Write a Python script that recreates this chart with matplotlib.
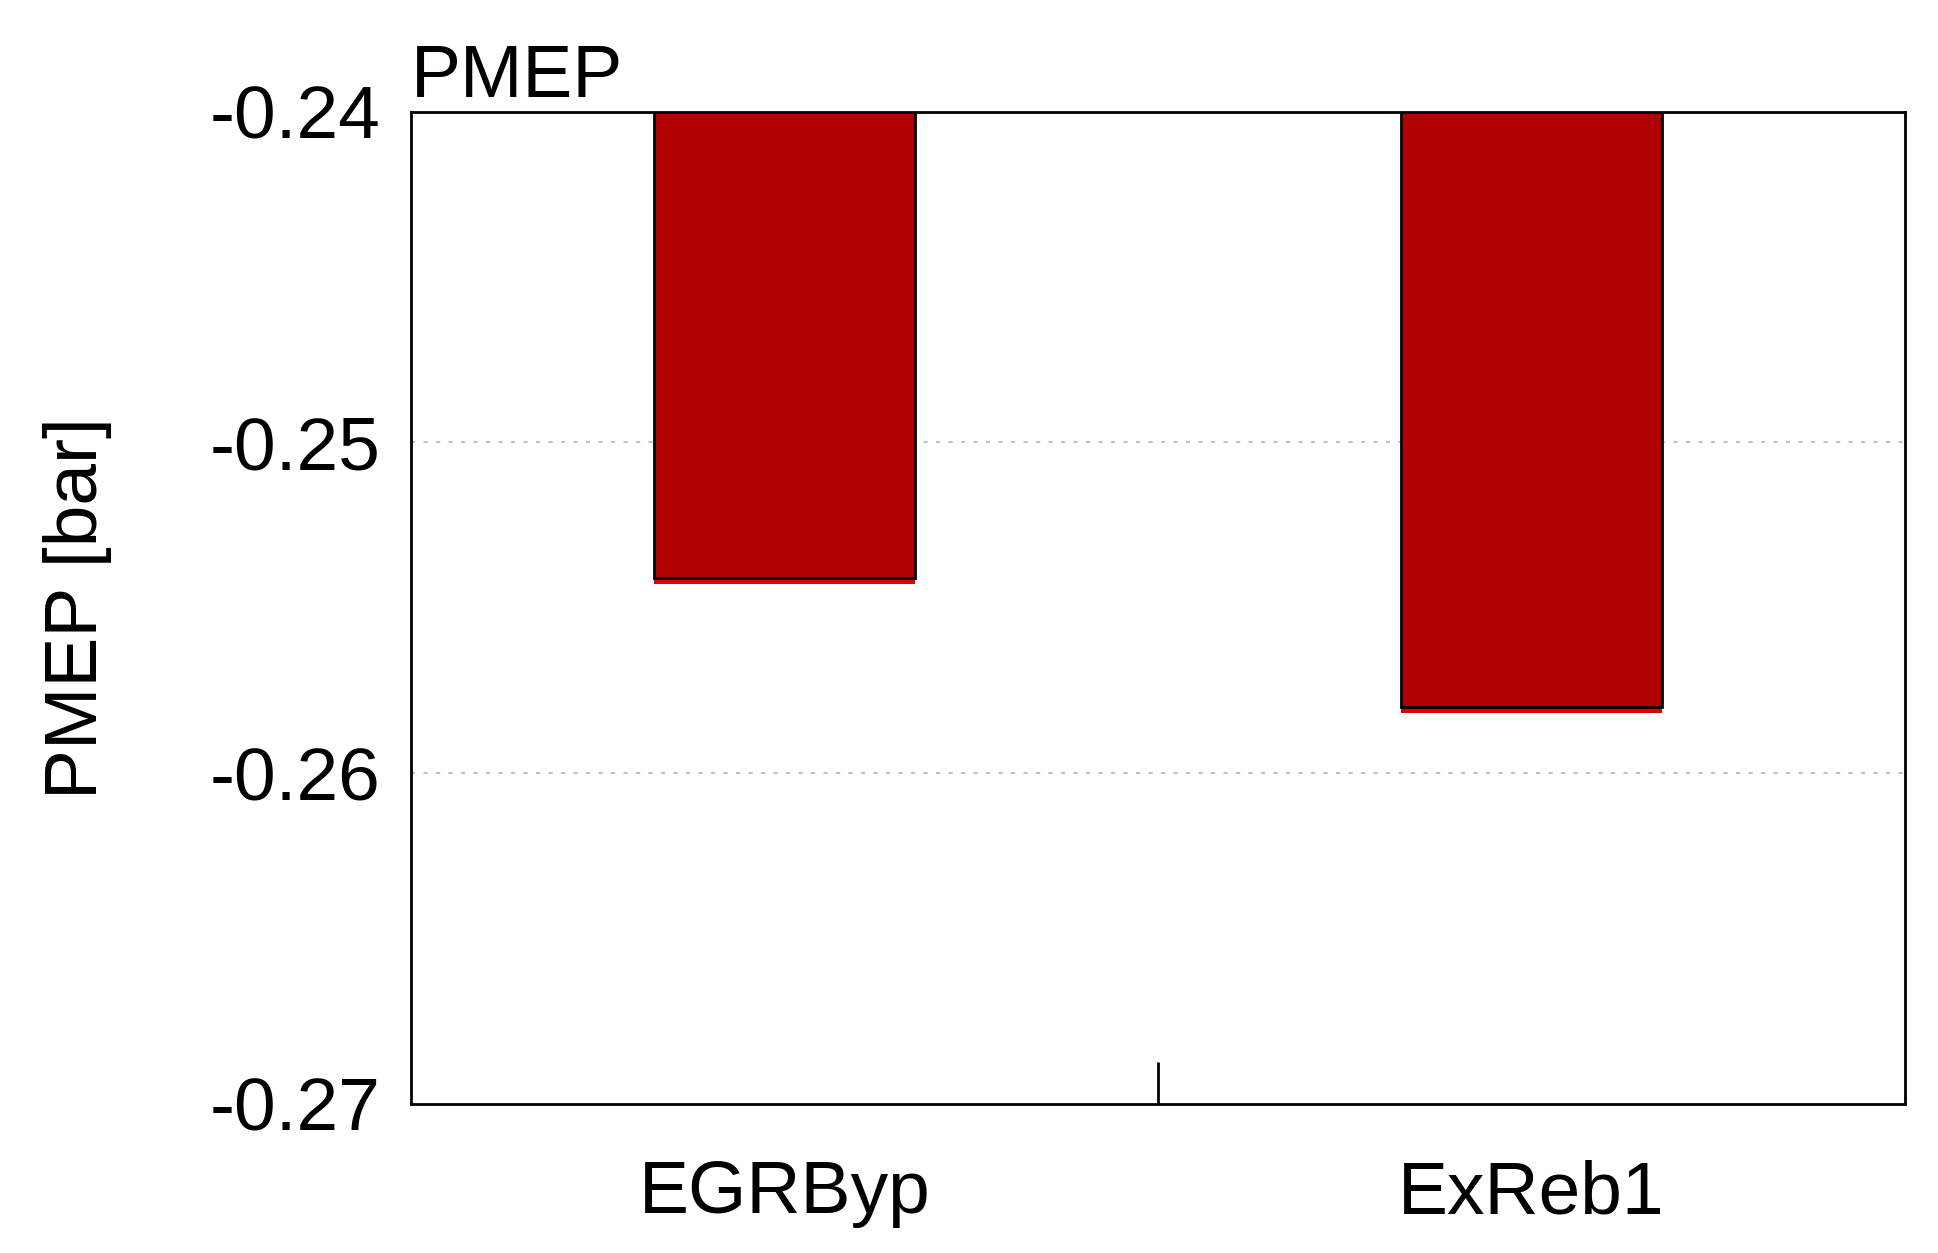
import matplotlib
matplotlib.use("Agg")
import matplotlib.pyplot as plt

categories = ["EGRByp", "ExReb1"]
values = [-0.2541, -0.2580]
yticks = [-0.27, -0.26, -0.25, -0.24]
ytick_labels = ["-0.27", "-0.26", "-0.25", "-0.24"]

plt.rcParams['font.family'] = ['Liberation Sans', 'DejaVu Sans']
fs = 54
fig = plt.figure(figsize=(19.38, 12.53), dpi=100)
ax = fig.add_axes([0.212, 0.119, 0.771, 0.792])
base = -0.24
x = list(range(len(categories)))
h = [v - base for v in values]
# red shadow under the bar bottom
ax.bar(x, h, bottom=[base - 0.00018] * len(x), width=0.35, color="#dd0000", zorder=2)
ax.bar(x, h, bottom=base, width=0.35, color="#b00000", edgecolor="black", linewidth=2, zorder=3)
ax.set_xlim(-0.5, 1.5)
ax.set_ylim(-0.27, -0.24)
ax.set_yticks(yticks)
ax.set_yticklabels(ytick_labels, fontsize=fs, fontweight='medium')
ax.set_xticks(x)
ax.set_xticklabels(categories, fontsize=fs)
ax.tick_params(axis='y', length=0, pad=22)
ax.tick_params(axis='x', length=0, pad=40)
ax.set_xticks([0.5], minor=True)
ax.tick_params(axis='x', which='minor', direction='in', length=30, width=2)
for s in ax.spines.values():
    s.set_linewidth(2)
for y in [-0.25, -0.26]:
    ax.axhline(y, color="#c0c0c0", linestyle=(0, (2, 4)), linewidth=1.5, zorder=1)
ax.set_ylabel("PMEP [bar]", fontsize=fs, labelpad=70)
ax.set_title("PMEP", loc="left", fontsize=fs, pad=4)
fig.savefig("out.png", dpi=100)
